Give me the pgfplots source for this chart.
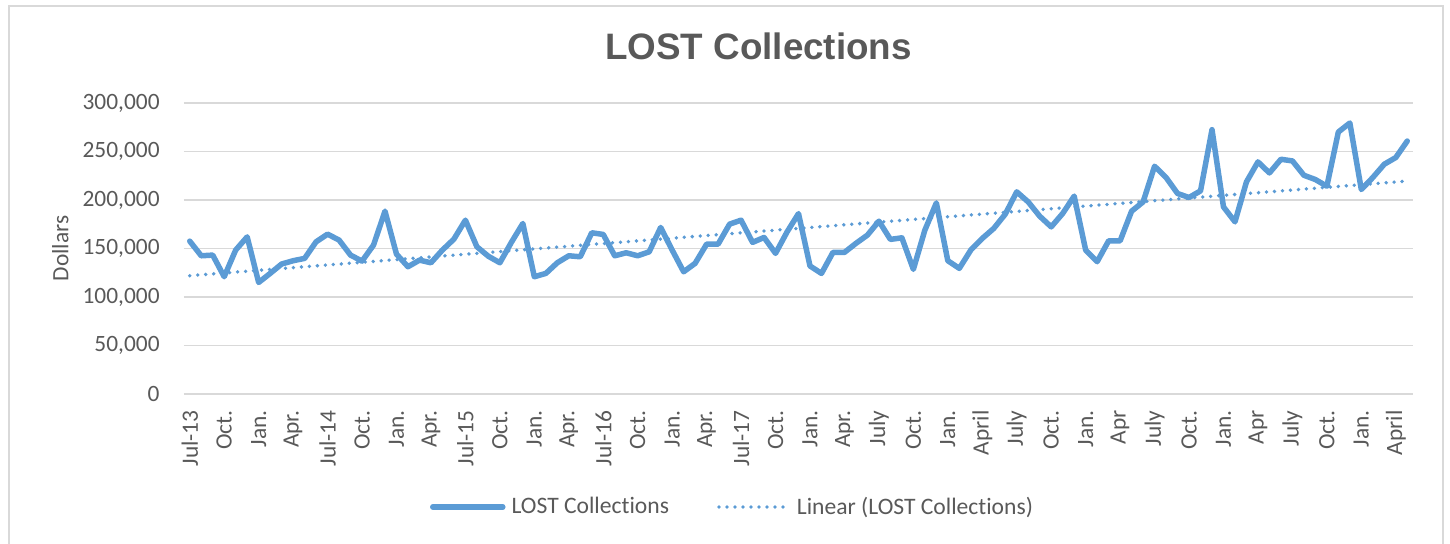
\documentclass[border=0pt]{standalone}
\usepackage{pgfplots}
\pgfplotsset{compat=1.18}
\usepackage{pgfplotstable}
\usepackage{fontspec}
\setmainfont{Carlito}[Ligatures=NoCommon]
\newfontfamily\titlefont{Liberation Sans}
\definecolor{lineblue}{HTML}{5B9BD5}
\definecolor{textgray}{HTML}{595959}
\definecolor{gridgray}{HTML}{D9D9D9}

\pgfplotstableread{
x y
0 157600
1 142500
2 143200
3 120900
4 148400
5 162000
6 115000
7 124300
8 134000
9 137400
10 139800
11 156900
12 164800
13 158700
14 143200
15 137000
16 153500
17 188500
18 144200
19 131200
20 138000
21 135300
22 148400
23 159700
24 179200
25 151800
26 142000
27 135300
28 156300
29 175800
30 120900
31 124300
32 135300
33 142500
34 141500
35 166200
36 164500
37 142500
38 145600
39 142500
40 146600
41 171700
42 148400
43 126000
44 134700
45 154500
46 154500
47 175100
48 179200
49 156300
50 161400
51 145000
52 167000
53 186000
54 132000
55 124300
56 146000
57 146000
58 155300
59 163800
60 178200
61 159400
62 161000
63 128500
64 168900
65 197000
66 137400
67 129500
68 148400
69 160400
70 170700
71 185400
72 208400
73 198000
74 183300
75 172300
76 186100
77 204000
78 148400
79 136400
80 157900
81 157900
82 188500
83 198000
84 234800
85 223200
86 206700
87 202600
88 209400
89 272500
90 192900
91 177500
92 218700
93 239300
94 227900
95 242000
96 240300
97 225500
98 221100
99 214200
100 270100
101 279400
102 210800
103 223200
104 236900
105 243800
106 260800
}\lost

\pgfplotstableread{
x y
0 122000
106 219500
}\trend

\begin{document}
\begin{tikzpicture}
\path[use as bounding box] (0pt,0pt) rectangle (725pt,-272pt);
\draw[gridgray, line width=1pt] (4.25pt,-275pt) -- (4.25pt,-3.25pt) -- (721.5pt,-3.25pt) -- (721.5pt,-275pt);
\begin{axis}[
  at={(92pt,-197pt)}, anchor=south west,
  scale only axis, width=614.5pt, height=145.5pt,
  xmin=-0.5, xmax=106.5, ymin=0, ymax=300000,
  axis line style={draw=none},
  major tick length=0pt,
  ymajorgrids, grid style={gridgray, line width=0.75pt},
  ytick={0,50000,100000,150000,200000,250000,300000},
  yticklabels={0,{50,000},{100,000},{150,000},{200,000},{250,000},{300,000}},
  scaled y ticks=false,
  xtick={0,3,...,105},
  xticklabels={Jul-13,Oct.,Jan.,Apr.,Jul-14,Oct.,Jan.,Apr.,Jul-15,Oct.,Jan.,Apr.,Jul-16,Oct.,Jan.,Apr.,Jul-17,Oct.,Jan.,Apr.,July,Oct.,Jan.,April,July,Oct.,Jan.,Apr,July,Oct.,Jan.,Apr,July,Oct.,Jan.,April},
  tick label style={font=\fontsize{11.7}{14}\selectfont, text=textgray, inner sep=0pt},
  xticklabel style={rotate=90, anchor=east},
  yticklabel style={anchor=east},
  xticklabel shift=8pt,
  yticklabel shift=12pt,
  ylabel={Dollars},
  every axis y label/.style={at={(axis description cs:-0.1006,0.5)}, rotate=90, anchor=center, font=\fontsize{11.7}{14}\selectfont, text=textgray},
  title={LOST Collections},
  title style={at={(axis description cs:0.4675,1.109)}, anchor=base, font=\titlefont\bfseries\fontsize{18.4}{22}\selectfont, text=textgray},
  legend columns=2,
  legend style={at={(axis description cs:0.2002,-0.3883)}, anchor=west, draw=none, fill=none, inner sep=0pt, outer sep=0pt, font=\fontsize{11.8}{14}\selectfont, text=textgray, nodes={inner sep=0pt}, /tikz/every odd column/.append style={column sep=3pt}, /tikz/every even column/.append style={column sep=24pt}},
  legend cell align=left,
  legend image code/.code={\draw[#1] (0pt,0pt) -- (35pt,0pt);},
]
\addplot[lineblue, line width=2.75pt, line join=round, line cap=round] table[x=x,y=y] {\lost};
\addlegendentry{LOST Collections}
\addplot[lineblue, line width=1.9pt, line cap=round, dash pattern=on 0pt off 4pt] table[x=x,y=y] {\trend};
\addlegendentry{Linear (LOST Collections)}
\end{axis}
\end{tikzpicture}
\end{document}
